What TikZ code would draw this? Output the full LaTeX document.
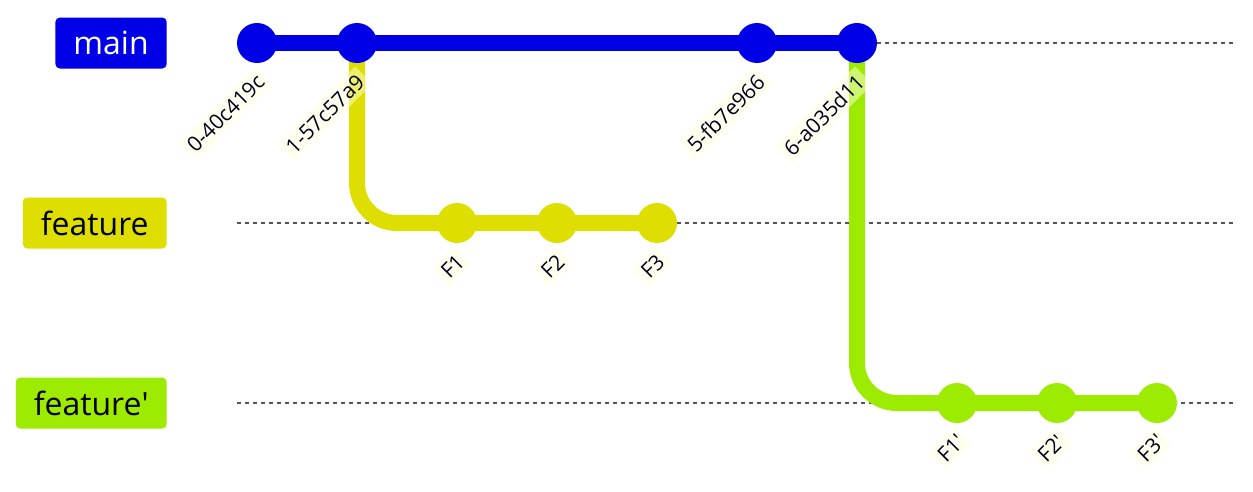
\documentclass[tikz,border=0pt]{standalone}
\usepackage{fontspec}
\setmainfont{Open Sans}
\usepackage{tikz}
\usetikzlibrary{positioning, backgrounds}
\usepackage{xcolor}
\definecolor{mainclr}{RGB}{0, 0, 230}
\definecolor{featclr}{RGB}{222, 222, 0}
\definecolor{rebclr}{RGB}{156, 235, 0}
\definecolor{lblbg}{RGB}{255, 255, 222}
\definecolor{lbltext}{RGB}{0, 0, 33}
\definecolor{laneclr}{RGB}{85, 85, 85}

\tikzset{
  branchlbl/.style={rounded corners=2.5pt, anchor=east, minimum height=1.02cm, inner xsep=0.36cm, inner ysep=0pt, font=\fontsize{18.2}{21}\selectfont},
  commit/.style={circle, fill=#1, minimum size=0.8cm, inner sep=0pt},
  commitlbl/.style={rotate=45, anchor=east, fill=lblbg, fill opacity=0.5, text opacity=1, text=lbltext, inner sep=2.5pt, font=\fontsize{12}{14}\selectfont},
  lane/.style={draw=laneclr, line width=1.1pt, dash pattern=on 0.08cm off 0.08cm},
  branchline/.style={draw=#1, line width=0.32cm, rounded corners=0.8cm}
}

\begin{document}
\begin{tikzpicture}[x=0.02cm, y=-0.02cm]
\useasboundingbox (0,0) rectangle (1253,491);

% branch names
\node[branchlbl, fill=mainclr, text=white] (bmain) at (167,43) {main};
\node[branchlbl, fill=featclr] (bfeat) at (167,223) {feature};
\node[branchlbl, fill=rebclr] (breb) at (167,403) {feature\textquotesingle};

% commits
\node[commit=mainclr] (m0) at (257,43) {};
\node[commit=mainclr] (m1) at (357,43) {};
\node[commit=mainclr] (m5) at (757,43) {};
\node[commit=mainclr] (m6) at (857,43) {};
\node[commit=featclr] (f1) at (457,223) {};
\node[commit=featclr] (f2) at (557,223) {};
\node[commit=featclr] (f3) at (657,223) {};
\node[commit=rebclr] (r1) at (957,403) {};
\node[commit=rebclr] (r2) at (1057,403) {};
\node[commit=rebclr] (r3) at (1157,403) {};

% lanes and branch lines
\coordinate (mainA) at (237,43);  \coordinate (mainB) at (1233,43);
\coordinate (featA) at (237,223); \coordinate (featB) at (1233,223);
\coordinate (rebA) at (237,403);  \coordinate (rebB) at (1233,403);
\begin{scope}[on background layer]
\draw[lane] (mainA) -- (mainB);
\draw[lane] (featA) -- (featB);
\draw[lane] (rebA) -- (rebB);
\draw[branchline=featclr] (m1.center) |- (f3.center);
\draw[branchline=rebclr] (m6.center) |- (r3.center);
\draw[branchline=mainclr] (m0.center) -- (m6.center);
\end{scope}

% commit ids
\node[commitlbl] (lm0) at (264,75) {0-40c419c};
\node[commitlbl] (lm1) at (364,75) {1-57c57a9};
\node[commitlbl] (lm5) at (764,75) {5-fb7e966};
\node[commitlbl] (lm6) at (864,75) {6-a035d11};
\node[commitlbl] (lf1) at (464,255) {F1};
\node[commitlbl] (lf2) at (564,255) {F2};
\node[commitlbl] (lf3) at (664,255) {F3};
\node[commitlbl] (lr1) at (964,435) {F1\textquotesingle};
\node[commitlbl] (lr2) at (1064,435) {F2\textquotesingle};
\node[commitlbl] (lr3) at (1164,435) {F3\textquotesingle};
\end{tikzpicture}
\end{document}
